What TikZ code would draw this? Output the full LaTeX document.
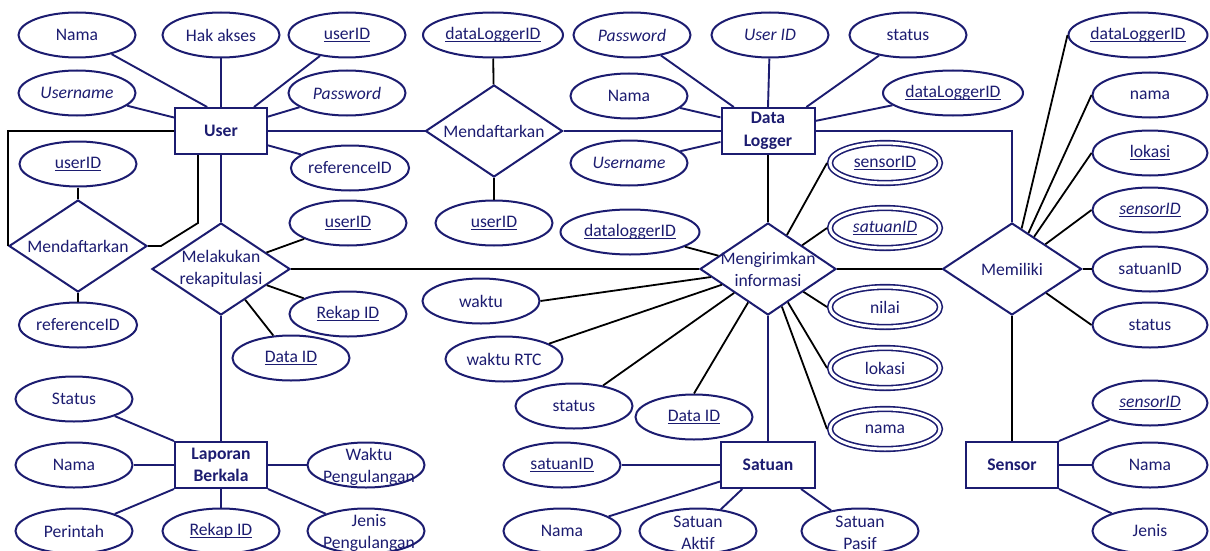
\documentclass[tikz,border=0pt]{standalone}
\usepackage{fontspec}
\setmainfont{Carlito}
\usetikzlibrary{shapes.geometric}
\definecolor{navy}{RGB}{28,28,112}
% key attributes: text with a thin rule just under the baseline
\newsavebox\keybox
\newcommand\keyu[1]{\sbox\keybox{#1}\rlap{\rule[-2.4pt]{\wd\keybox}{1.1pt}}\usebox\keybox}

\begin{document}
\begin{tikzpicture}[x=1pt,y=-1pt,
  every node/.style={font=\fontsize{17.6}{22}\selectfont, text=navy},
  attr/.style={ellipse, draw=navy, line width=2pt, minimum width=117pt, minimum height=45pt, inner sep=0pt},
  wideattr/.style={attr, minimum width=140pt},
  dblattr/.style={ellipse, draw=navy, line width=1.6pt, double=white, double distance=3pt, minimum width=110pt, minimum height=40pt, inner sep=0pt, outer sep=3pt},
  entity/.style={rectangle, draw=navy, line width=2pt, minimum width=92pt, minimum height=46pt, inner sep=0pt, font=\fontsize{17.6}{22.5}\selectfont\bfseries, align=center},
  rel/.style={diamond, draw=navy, line width=2pt, minimum width=138pt, minimum height=92pt, inner sep=0pt},
  inner/.style={align=center, inner sep=0pt},
  nline/.style={draw=navy, line width=1.9pt},
  bline/.style={draw=black, line width=1.8pt},
]
\useasboundingbox (0,0) rectangle (1210,551);

% ---------- User ----------
\node[entity] (user) at (221,131) {User};
\node[attr] (unama) at (77,35) {Nama};
\node[attr] (uhak) at (221,35) {Hak akses};
\node[attr] (uid) at (347,35) {\keyu{userID}};
\node[attr] (uuname) at (77,93) {\textit{Username}};
\node[attr] (upass) at (347,93) {\textit{Password}};
\node[attr] (uref) at (350,168) {referenceID};

% ---------- Mendaftarkan (left) ----------
\node[rel] (regl) at (78,246) {};
\node[inner] (regltxt) at (regl) {Mendaftarkan};
\node[attr] (reglid) at (78,164) {\keyu{userID}};
\node[attr] (reglref) at (78,325) {referenceID};

% ---------- Melakukan rekapitulasi ----------
\node[rel] (rekap) at (221,269) {};
\node[inner] (rekaptxt) at (rekap) {Melakukan\\rekapitulasi};
\node[attr] (rekuid) at (348,223) {\keyu{userID}};
\node[attr] (rekid) at (348,314) {\keyu{Rekap ID}};
\node[attr] (rekdata) at (291,358) {\keyu{Data ID}};

% ---------- Laporan Berkala ----------
\node[entity] (lap) at (221,465) {Laporan\\Berkala};
\node[attr] (lapstatus) at (74,399) {Status};
\node[attr] (lapnama) at (74,465) {Nama};
\node[attr] (lapperintah) at (74,531) {Perintah};
\node[attr] (laprekap) at (221,531) {\keyu{Rekap ID}};
\node[attr] (lapwaktu) at (366,465) {};
\node[inner] (lapwaktutxt) at (369,467) {Waktu\\Pengulangan};
\node[attr] (lapjenis) at (366,531) {};
\node[inner] (lapjenistxt) at (369,533) {Jenis\\Pengulangan};

% ---------- Mendaftarkan (middle) ----------
\node[rel, minimum width=137pt] (regm) at (494,131) {};
\node[inner] (regmtxt) at (regm) {Mendaftarkan};
\node[wideattr] (regmdl) at (493,35) {\keyu{dataLoggerID}};
\node[attr] (regmuid) at (494,223) {\keyu{userID}};

% ---------- Data Logger ----------
\node[entity, minimum width=93pt] (dl) at (768,131) {Data\\Logger};
\node[attr] (dlpass) at (632,35) {\textit{Password}};
\node[attr] (dluid) at (770,35) {\textit{User ID}};
\node[attr] (dlstatus) at (908,35) {status};
\node[attr] (dlnama) at (629,96) {Nama};
\node[attr] (dluname) at (629,163) {\textit{Username}};
\node[wideattr] (dlid) at (953,93) {\keyu{dataLoggerID}};

% ---------- Mengirimkan informasi ----------
\node[rel, minimum width=136pt] (kirim) at (768,269) {};
\node[inner] (kirimtxt) at (kirim) {Mengirimkan\\informasi};
\node[dblattr] (kirsensor) at (885,163) {\keyu{sensorID}};
\node[dblattr] (kirsatuan) at (885,228) {\keyu{\textit{satuanID}}};
\node[dblattr] (kirnilai) at (885,307) {nilai};
\node[dblattr] (kirlokasi) at (885,368) {lokasi};
\node[dblattr] (kirnama) at (885,429) {nama};
\node[wideattr, minimum width=139pt] (kirdl) at (630,232) {\keyu{dataloggerID}};
\node[attr] (kirwaktu) at (481,301) {waktu};
\node[attr] (kirrtc) at (504,359) {waktu RTC};
\node[attr] (kirstatus) at (574,406) {status};
\node[attr] (kirdata) at (694,417) {\keyu{Data ID}};

% ---------- Satuan ----------
\node[entity, minimum width=94pt] (sat) at (768,465) {Satuan};
\node[attr] (satid) at (562,465) {\keyu{satuanID}};
\node[attr] (satnama) at (562,531) {Nama};
\node[attr] (sataktif) at (698,531) {};
\node[inner] (sataktiftxt) at (698,533) {Satuan\\Aktif};
\node[attr] (satpasif) at (860,531) {};
\node[inner] (satpasiftxt) at (860,533) {Satuan\\Pasif};

% ---------- Memiliki ----------
\node[rel, minimum width=139pt] (milik) at (1012,269) {};
\node[inner] (miliktxt) at (milik) {Memiliki};
\node[wideattr, minimum width=139pt] (mildl) at (1138,35) {\keyu{dataLoggerID}};
\node[attr, minimum width=115pt] (milnama) at (1150,95) {nama};
\node[attr, minimum width=115pt] (millokasi) at (1150,153) {\keyu{lokasi}};
\node[attr, minimum width=115pt] (milsensor) at (1150,210) {\keyu{\textit{sensorID}}};
\node[attr, minimum width=115pt] (milsatuan) at (1150,269) {satuanID};
\node[attr, minimum width=115pt] (milstatus) at (1150,325) {status};

% ---------- Sensor ----------
\node[entity] (sen) at (1012,465) {Sensor};
\node[attr, minimum width=115pt] (sensid) at (1150,403) {\keyu{\textit{sensorID}}};
\node[attr, minimum width=115pt] (sennama) at (1150,465) {Nama};
\node[attr, minimum width=115pt] (senjenis) at (1150,531) {Jenis};

% ---------- bend points of the left Mendaftarkan link ----------
\coordinate (reglbendA) at (161,246);
\coordinate (reglbendB) at (198,223);

% ---------- entity attributes and entity links (navy) ----------
\path[nline] (unama) -- (user.120);
\path[nline] (uhak) -- (user.north);
\path[nline] (uid) -- (user.36);
\path[nline] (uuname) -- (user.164);
\path[nline] (upass) -- (user.17);
\path[nline] (uref) -- (user.-17);
\path[nline] (user) -- (regm);
\path[nline] (regm) -- (dl);
\path[nline] (user) -- (rekap);
\path[nline] (rekap) -- (lap);

\path[nline] (dlpass) -- (dl.145);
\path[nline] (dluid) -- (dl.north);
\path[nline] (dlstatus) -- (dl.32);
\path[nline] (dlnama) -- (dl.164);
\path[nline] (dluname) -- (dl.193);
\path[nline] (dlid) -- (dl.12);
\path[nline] (dl.east) -| (milik.north);
\path[nline] (kirim) -- (sat);

\path[nline] (lapstatus) -- (lap.north west);
\path[nline] (lapnama) -- (lap.west);
\path[nline] (lapperintah) -- (lap.south west);
\path[nline] (laprekap) -- (lap.south);
\path[nline] (lapwaktu) -- (lap.east);
\path[nline] (lapjenis) -- (lap.south east);

\path[nline] (satid) -- (sat.west);
\path[nline] (satnama) -- (sat.199);
\path[nline] (sataktif) -- (sat.223);
\path[nline] (satpasif) -- (sat.-36);

\path[nline] (sensid) -- (sen.north east);
\path[nline] (sennama) -- (sen.east);
\path[nline] (senjenis) -- (sen.south east);

% ---------- relationship links (black) ----------
\path[bline] (regmdl) -- (regm);
\path[bline] (regmuid) -- (regm);
\path[bline] (user.west) -| (regl.west);
\path[bline] (regl.east) -- (reglbendA) -- (reglbendB) -- (reglbendB |- user.south);
\path[bline] (reglid) -- (regl);
\path[bline] (reglref) -- (regl);

\path[bline] (rekap) -- (rekuid);
\path[bline] (rekap) -- (rekid);
\path[bline] (rekap) -- (rekdata);
\path[bline] (rekap) -- (kirim);

\path[bline] (dl) -- (kirim);
\path[bline] (kirim) -- (kirsensor.west);
\path[bline] (kirim) -- (kirsatuan.west);
\path[bline] (kirim) -- (kirnilai.west);
\path[bline] (kirim) -- (kirlokasi.west);
\path[bline] (kirim) -- (kirnama.west);
\path[bline] (kirim) -- (kirdl);
\path[bline] (kirim) -- (kirwaktu.east);
\path[bline] (kirim) -- (kirrtc);
\path[bline] (kirim) -- (kirstatus);
\path[bline] (kirim) -- (kirdata.north);
\path[bline] (kirim) -- (milik);

\path[bline] (milik) -- (mildl.west);
\path[bline] (milik) -- (milnama.west);
\path[bline] (milik) -- (millokasi.west);
\path[bline] (milik) -- (milsensor.west);
\path[bline] (milik) -- (milsatuan.west);
\path[bline] (milik) -- (milstatus.west);
\path[bline] (milik) -- (sen);
\end{tikzpicture}
\end{document}
